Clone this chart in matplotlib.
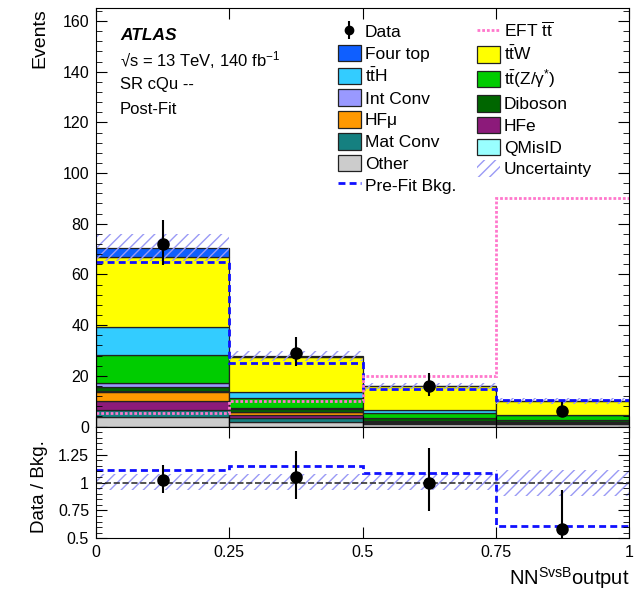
import matplotlib
matplotlib.use("Agg")
import matplotlib.pyplot as plt
from matplotlib.patches import Patch
from matplotlib.lines import Line2D
from matplotlib.ticker import MultipleLocator
import numpy as np

plt.rcParams['font.family'] = ['Liberation Sans', 'DejaVu Sans']
plt.rcParams['mathtext.fontset'] = 'custom'
plt.rcParams['mathtext.rm'] = 'Liberation Sans'
plt.rcParams['mathtext.it'] = 'Liberation Sans:italic'
plt.rcParams['mathtext.bf'] = 'Liberation Sans:bold'
plt.rcParams['hatch.linewidth'] = 1.0

# binning of NN output
edges = [0, 0.25, 0.5, 0.75, 1.0]

# post-fit background components (stacked bottom -> top)
other = [3.8, 1.7, 1.0, 0.9]
mat_conv = [2.7, 1.7, 0.3, 0.2]
hfe = [3.4, 1.3, 0.4, 0.3]
hfmu = [3.9, 0.9, 0.3, 0.2]
qmisid = [0.1, 0.1, 0.05, 0.05]
diboson = [1.5, 1.4, 1.2, 1.0]
int_conv = [1.6, 0.2, 0.2, 0.1]
ttz = [11.3, 4.1, 2.0, 1.7]
tth = [10.8, 2.2, 0.9, 0.2]
ttw = [27.9, 13.8, 9.5, 5.4]
four_top = [3.3, 0.3, 0.2, 0.2]

# data with asymmetric errors
data = [72, 29, 16, 6]
data_err_lo = [8.4, 5.3, 4.0, 2.4]
data_err_hi = [9.4, 6.5, 5.0, 3.6]

# relative uncertainty of the total background
unc_lo_rel = [0.07, 0.07, 0.07, 0.125]
unc_hi_rel = [0.078, 0.078, 0.078, 0.11]

prefit = [65.1, 25.2, 14.9, 10.3]
prefit_ratio = [1.11, 1.147, 1.085, 0.61]
eft_tt = [5.3, 9.9, 19.9, 90.3]

components = [
    (other, '#cccccc', 'Other'),
    (mat_conv, '#158080', 'Mat Conv'),
    (hfe, '#8c1a7a', 'HFe'),
    (hfmu, '#ff9900', 'HFμ'),
    (qmisid, '#99ffff', 'QMisID'),
    (diboson, '#006600', 'Diboson'),
    (int_conv, '#9999ff', 'Int Conv'),
    (ttz, '#00cc00', r'$\mathrm{t\bar{t}}$(Z/γ$^{*}$)'),
    (tth, '#33ccff', r'$\mathrm{t\bar{t}H}$'),
    (ttw, '#ffff00', r'$\mathrm{t\bar{t}W}$'),
    (four_top, '#0f5fff', 'Four top'),
]

centers = [(edges[i] + edges[i + 1]) / 2 for i in range(len(edges) - 1)]
width = 0.25
hatch_col = '#9a9af5'
prefit_ls = (0, (2.5, 1.5))
eft_ls = (0, (1, 0.7))

fig = plt.figure(figsize=(6.36, 5.90), dpi=100)
ax = fig.add_axes([0.151, 0.2771, 0.838, 0.7088])
rax = fig.add_axes([0.151, 0.0873, 0.838, 0.1898])

# stacked backgrounds
bottom = np.zeros(len(centers))
for vals, col, lab in components:
    ax.bar(centers, vals, width=width, bottom=bottom, color=col,
           edgecolor='#222222', linewidth=0.9)
    bottom = bottom + np.array(vals)
total = bottom

# uncertainty band
unc_lo = total * np.array(unc_lo_rel)
unc_hi = total * np.array(unc_hi_rel)
ax.bar(centers, unc_lo + unc_hi, width=width, bottom=total - unc_lo,
       fill=False, hatch='///', edgecolor=hatch_col, linewidth=0)

# pre-fit and EFT lines
ax.stairs(prefit, edges, baseline=None, color='#1010ff', linestyle=prefit_ls,
          linewidth=2)
ax.stairs(eft_tt, edges, baseline=None, color='#ff77cc', linestyle=eft_ls,
          linewidth=2)

ax.errorbar(centers, data, yerr=[data_err_lo, data_err_hi], fmt='o', color='black',
            markersize=8, elinewidth=1.5, capsize=0, zorder=10)

ax.set_xlim(0, 1)
ax.set_ylim(0, 165)
ax.yaxis.set_major_locator(MultipleLocator(20))
ax.yaxis.set_minor_locator(MultipleLocator(4))
ax.xaxis.set_major_locator(MultipleLocator(0.25))
ax.tick_params(axis='both', which='both', direction='in', top=True, right=True,
               labelsize=11.5, pad=5)
ax.tick_params(which='major', length=8)
ax.tick_params(which='minor', length=4)
ax.tick_params(axis='x', labelbottom=False)

# ratio panel
ratio = np.array(data) / total
r_lo = np.array(data_err_lo) / total
r_hi = np.array(data_err_hi) / total
rax.bar(centers, np.array(unc_lo_rel) + np.array(unc_hi_rel), width=width,
        bottom=1 - np.array(unc_lo_rel), fill=False, hatch='///',
        edgecolor=hatch_col, linewidth=0)
rax.axhline(1, color='#333333', linestyle='--', linewidth=1.2)
rax.stairs(prefit_ratio, edges, baseline=None, color='#1010ff',
           linestyle=prefit_ls, linewidth=2)
rax.errorbar(centers, ratio, yerr=[r_lo, r_hi], fmt='o', color='black',
             markersize=8, elinewidth=1.5, capsize=0, zorder=10)
rax.set_xlim(0, 1)
rax.set_ylim(0.5, 1.5)
rax.set_yticks([0.5, 0.75, 1, 1.25])
rax.set_yticklabels(['0.5', '0.75', '1', '1.25'])
rax.yaxis.set_minor_locator(MultipleLocator(0.05))
rax.set_xticks([0, 0.25, 0.5, 0.75, 1])
rax.set_xticklabels(['0', '0.25', '0.5', '0.75', '1'])
rax.tick_params(axis='both', which='both', direction='in', top=True, right=True,
                labelsize=11.5, pad=5)
rax.tick_params(which='major', length=8)
rax.tick_params(which='minor', length=4)

# labels
fig.text(40 / 636, 1 - 8 / 590, 'Events', rotation=90, ha='center', va='top',
         fontsize=14)
fig.text(40 / 636, 1 - 487 / 590, 'Data / Bkg.', rotation=90, ha='center',
         va='center', fontsize=13.5)
fig.text(629 / 636, 1 - 578 / 590, r'NN$^{\mathrm{SvsB}}$output', ha='right',
         va='center', fontsize=14.5)

fig.text(120 / 636, 1 - 36 / 590, 'ATLAS', fontsize=12.5, fontweight='bold',
         fontstyle='italic', va='center')
fig.text(120 / 636, 1 - 60 / 590, r'√s = 13 TeV, 140 fb$^{\mathrm{-1}}$',
         fontsize=12, va='center')
fig.text(120 / 636, 1 - 84 / 590, 'SR cQu --', fontsize=12, va='center')
fig.text(120 / 636, 1 - 109 / 590, 'Post-Fit', fontsize=12, va='center')

# legend
comp = {lab: col for _, col, lab in components}


def box(lab):
    return Patch(facecolor=comp[lab], edgecolor='#222222', linewidth=0.9)


data_handle = (Line2D([], [], color='black', marker='|', markersize=13,
                      markeredgewidth=1.5, linestyle='none'),
               Line2D([], [], color='black', marker='o', markersize=6,
                      linestyle='none'))
handles = [
    data_handle, box('Four top'), box(r'$\mathrm{t\bar{t}H}$'), box('Int Conv'),
    box('HFμ'), box('Mat Conv'), box('Other'),
    Line2D([], [], color='#1010ff', linestyle=prefit_ls, linewidth=2),
    Line2D([], [], color='#ff77cc', linestyle=eft_ls, linewidth=2),
    box(r'$\mathrm{t\bar{t}W}$'), box(r'$\mathrm{t\bar{t}}$(Z/γ$^{*}$)'),
    box('Diboson'), box('HFe'), box('QMisID'),
    Patch(fill=False, hatch='///', edgecolor=hatch_col, linewidth=0),
]
labels = [
    'Data', 'Four top', r'$\mathrm{t\bar{t}H}$', 'Int Conv', 'HFμ', 'Mat Conv',
    'Other', 'Pre-Fit Bkg.', r'EFT $\overline{\mathrm{tt}}$', r'$\mathrm{t\bar{t}W}$',
    r'$\mathrm{t\bar{t}}$(Z/γ$^{*}$)', 'Diboson', 'HFe', 'QMisID', 'Uncertainty',
]
ax.legend(handles, labels, ncol=2, loc='upper left',
          bbox_to_anchor=(338 / 636, 1 - 21 / 590), bbox_transform=fig.transFigure,
          frameon=False, fontsize=12.5, handlelength=1.3, handleheight=1.1,
          handletextpad=0.25, labelspacing=0.26, columnspacing=1.2,
          borderpad=0, borderaxespad=0)

fig.savefig('out.png', dpi=100)
